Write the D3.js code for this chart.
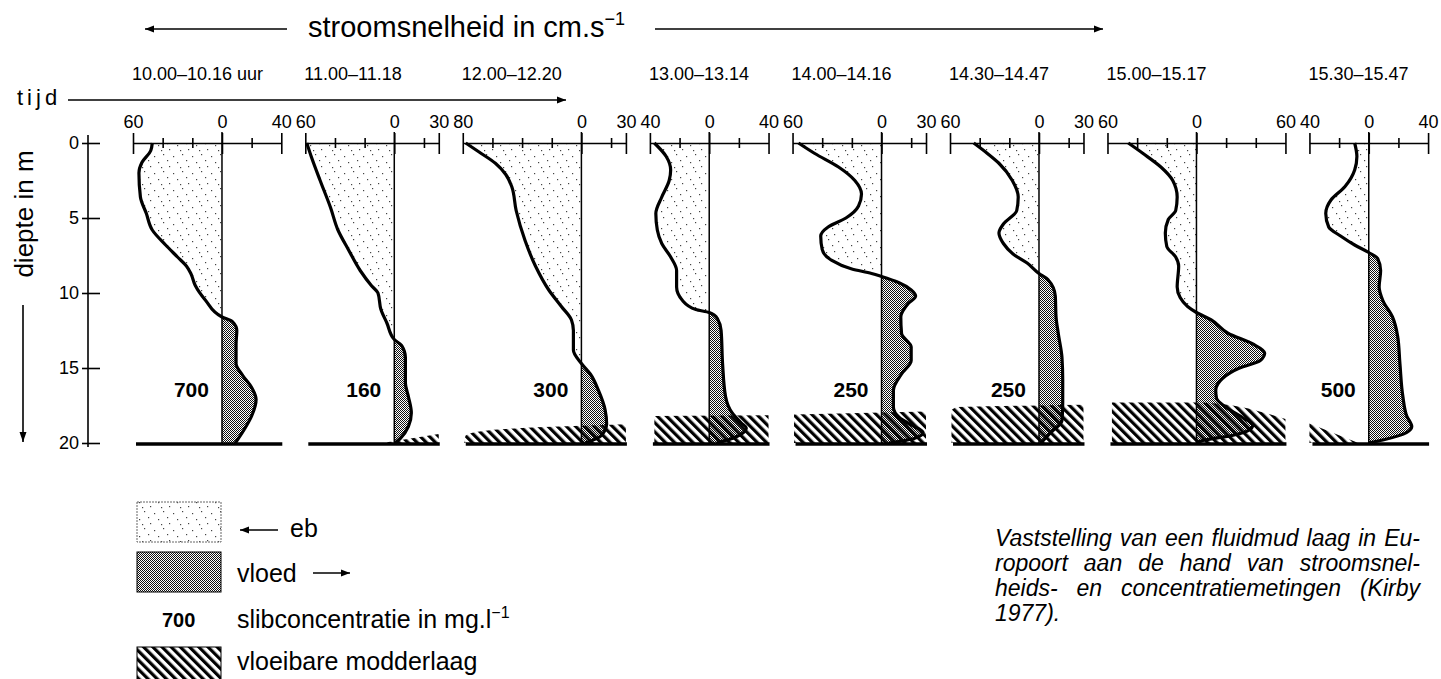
<!DOCTYPE html>
<html>
<head>
<meta charset="utf-8">
<script src="https://cdn.jsdelivr.net/npm/d3@7"></script>
<style>
  body { margin: 0; background: #fff; }
  svg { display: block; font-family: "Liberation Sans", Arial, Helvetica, sans-serif; }
</style>
</head>
<body>
<svg id="chart" width="1441" height="679"></svg>
<script>
// meetperiodes
const periods = ['10.00–10.16 uur', '11.00–11.18', '12.00–12.20', '13.00–13.14',
                 '14.00–14.16', '14.30–14.47', '15.00–15.17', '15.30–15.47'];
// schaal per profiel (cm/s): links eb, rechts vloed
const ebMax = [60, 60, 80, 40, 60, 60, 60, 40];
const vloedMax = [40, 30, 30, 40, 30, 30, 60, 40];
// slibconcentratie (mg/l)
const concentrations = ['700', '160', '300', null, '250', '250', null, '500'];
const depthTicks = [0, 5, 10, 15, 20];

// snelheidsprofielen: [diepte m, snelheid cm/s], negatief = eb
const profile1 = [[0,-47],[0.5,-48],[1.3,-54],[2,-56],[3.6,-55],[4.7,-51],[5.8,-47],[6.8,-38],[7.6,-30],[8.2,-24],[8.7,-21],[9.5,-18],[10.5,-11],[11.6,0],[11.9,7],[12.5,10],[13.4,9.5],[14.7,9.5],[15.5,14],[16.3,20],[17.1,23],[18.2,20],[19.1,15],[20,9]];
const profile2 = [[0,-59],[0.9,-56],[2.5,-50],[4.3,-43],[5.8,-38],[7.1,-31],[8.5,-23],[9.5,-15.5],[10,-11],[11.1,-9],[12,-5],[13.1,0],[13.5,5],[14.3,7.5],[16,7.5],[16.9,9.5],[18,11.5],[18.9,9.5],[19.7,4],[20,0.5]];
const profile3 = [[0,-78],[0.6,-69],[1.35,-58],[2.1,-51],[2.9,-47],[4.5,-44],[6.5,-38],[8.2,-31],[9.8,-22],[10.9,-13.5],[11.8,-6.7],[12.5,-5.4],[13.8,-5.4],[14.7,0],[15.4,6],[16.5,11.5],[17.8,16],[18.7,17],[19.5,13.5],[20,2.7]];
const profile4 = [[0,-37],[0.9,-29],[1.8,-26],[2.5,-27],[3.6,-32],[4.7,-36],[5.8,-35],[6.7,-32],[7.6,-26],[8.5,-22],[9.6,-22],[10.5,-18],[11.1,-9],[11.3,0],[11.7,5.5],[12.5,8],[14.7,9],[16.9,11],[18,15.5],[18.7,22],[19,25],[19.6,18],[20,5]];
const profile5 = [[0,-56],[0.7,-45],[1.6,-29],[2.5,-18],[3.4,-13.5],[4.2,-15.5],[5,-24],[5.6,-36],[6.2,-41],[7.1,-40],[7.8,-34],[8.4,-20],[8.7,-6.7],[8.9,0],[9.3,11.5],[9.8,20],[10.2,23],[10.7,18],[11.6,13],[12.7,13.5],[13.6,20],[14.5,20],[15.4,13.5],[16.5,8],[17.6,8],[18.3,12],[18.8,20],[19.3,28],[19.7,22],[20,5]];
const profile6 = [[0,-44],[0.6,-36],[1.35,-27],[2.5,-18],[3.6,-14],[4.5,-15],[5.4,-24],[6,-27],[6.7,-24],[7.4,-17.5],[8,-8],[8.7,0],[9.1,6],[10.2,11],[11.6,11.5],[12.7,13],[14.3,15.5],[15.8,16],[17.3,16],[18.5,15.5],[19.3,8],[20,1.3]];
const profile7 = [[0,-46],[0.7,-36],[1.6,-24],[2.5,-16],[3.6,-13],[4.5,-14],[5.1,-19],[6,-21],[6.9,-20],[7.6,-14],[8.2,-12],[9.6,-13],[10.3,-11],[10.9,-6],[11.3,0],[11.8,10],[12.7,21.5],[13.4,38],[14,46],[14.5,43],[15,29],[15.7,17.5],[16.5,13],[17,13.5],[17.6,19.5],[18.3,31],[18.8,38],[19.1,36],[19.5,24],[19.8,5.5],[20,0]];
const profile8 = [[0,-9.5],[0.9,-8],[1.8,-9.5],[2.9,-16],[3.8,-25.5],[4.7,-29],[5.6,-27],[6.2,-19],[6.8,-9.5],[7.3,0],[7.7,6],[8.5,8],[9.6,7],[10.5,9.5],[11.6,16],[12.9,19.5],[14.7,21],[16.9,23],[18.2,25.6],[18.9,29],[19.3,25.6],[19.8,9.5],[20,0]];
const profiles = [profile1, profile2, profile3, profile4, profile5, profile6, profile7, profile8];

// vloeibare modderlaag: bovenrand als [snelheid, diepte]
const mud2 = [[-8,20],[30,19.4]];
const mud3 = [[-79,20],[-78,19.5],[-70,19.25],[-40,19.0],[0,18.85],[30,18.75]];
const mud4 = [[-37,18.2],[40,18.15]];
const mud5 = [[-59,18.1],[30,17.9]];
const mud6 = [[-59,17.8],[-55,17.6],[0,17.5],[30,17.45]];
const mud7 = [[-57,17.3],[0,17.3],[30,17.6],[50,18.1],[60,18.4]];
const mud8 = [[-40,18.7],[-7,20]];
const mudLayers = [null, mud2, mud3, mud4, mud5, mud6, mud7, mud8];

const svg = d3.select('#chart');
svg.append('rect').attr('width', 1441).attr('height', 679).attr('fill', '#fff');
const defs = svg.append('defs');

// patronen
const ebPat = defs.append('pattern').attr('id', 'eb')
  .attr('patternUnits', 'userSpaceOnUse').attr('width', 19).attr('height', 17);
[[2,3],[11,1],[6,9],[15,7],[9,14],[17,13]].forEach(([px, py]) => {
  ebPat.append('rect').attr('x', px).attr('y', py).attr('width', 1.2).attr('height', 1.2).attr('fill', '#444');
});

const vloedPat = defs.append('pattern').attr('id', 'vloed')
  .attr('patternUnits', 'userSpaceOnUse').attr('width', 2).attr('height', 2);
vloedPat.append('rect').attr('width', 1).attr('height', 1).attr('fill', '#111');
vloedPat.append('rect').attr('x', 1).attr('y', 1).attr('width', 1).attr('height', 1).attr('fill', '#111');

const mudPat = defs.append('pattern').attr('id', 'mud')
  .attr('patternUnits', 'userSpaceOnUse').attr('width', 6.5).attr('height', 10)
  .attr('patternTransform', 'rotate(-45)');
mudPat.append('rect').attr('width', 3.2).attr('height', 10).attr('fill', '#000');

function arrow(x1, y1, x2, y2, head = 9, w = 3.5) {
  svg.append('line').attr('x1', x1).attr('y1', y1).attr('x2', x2).attr('y2', y2)
    .attr('stroke', '#000').attr('stroke-width', 1.6);
  const a = Math.atan2(y2 - y1, x2 - x1);
  const bx = x2 - head * Math.cos(a), by = y2 - head * Math.sin(a);
  const px = -Math.sin(a) * w, py = Math.cos(a) * w;
  svg.append('path')
    .attr('d', `M${x2},${y2}L${bx + px},${by + py}L${bx - px},${by - py}Z`)
    .attr('fill', '#000');
}

// titel
const title = svg.append('text').attr('x', 308).attr('y', 37).attr('font-size', 29);
title.append('tspan').text('stroomsnelheid in cm.s');
title.append('tspan').attr('dy', -12).attr('font-size', 18).text('−1');
arrow(287, 29, 145, 29);
arrow(655, 29, 1103, 29);

// tijd
svg.append('text').attr('x', 17).attr('y', 105).attr('font-size', 22)
  .attr('letter-spacing', 4).text('tijd');
arrow(68, 100, 566, 100);

// diepte-as
const y = d3.scaleLinear().domain([0, 20]).range([143, 443]);
const yAxis = svg.append('g').attr('transform', 'translate(88,0)')
  .call(d3.axisLeft(y).tickValues(depthTicks).tickSizeOuter(0));
yAxis.select('.domain').attr('d', `M0,${y(0) - 8}V${y(20) + 4}`).attr('stroke-width', 1.6);
yAxis.selectAll('.tick line').attr('x1', -6).attr('x2', 12).attr('stroke-width', 1.6);
yAxis.selectAll('.tick text').attr('x', -9).attr('font-size', 18)
  .attr('font-family', '"Liberation Sans", Arial, sans-serif').attr('fill', '#000');

svg.append('text').attr('transform', 'translate(33,214) rotate(-90)')
  .attr('text-anchor', 'middle').attr('font-size', 26).text('diepte in m');
arrow(23, 305, 23, 442, 10, 3.5);

// profielen
const k = 1.483, gap = 24;
let cursor = 133;

periods.forEach((label, i) => {
  const L = cursor, R = L + (ebMax[i] + vloedMax[i]) * k;
  cursor = R + gap;
  const x = d3.scaleLinear().domain([-ebMax[i], vloedMax[i]]).range([L, R]);
  const g = svg.append('g');
  const data = profiles[i];

  g.append('text').attr('x', L - 1).attr('y', 80).attr('font-size', 18).text(label);

  // modderlaag
  if (mudLayers[i]) {
    const mudArea = d3.area().curve(d3.curveMonotoneX)
      .x(d => x(d[0])).y0(y(20)).y1(d => y(d[1]));
    g.append('path').datum(mudLayers[i]).attr('d', mudArea).attr('fill', 'url(#mud)');
  }

  // eb / vloed vlakken
  const area = d3.area().curve(d3.curveMonotoneY)
    .y(d => y(d[0])).x0(x(0)).x1(d => x(d[1]));
  const ebClip = 'clipEb' + i, vlClip = 'clipVl' + i;
  defs.append('clipPath').attr('id', ebClip).append('rect')
    .attr('x', L - 20).attr('y', y(0) - 5).attr('width', x(0) - L + 20).attr('height', 320);
  defs.append('clipPath').attr('id', vlClip).append('rect')
    .attr('x', x(0)).attr('y', y(0) - 5).attr('width', R - x(0) + 40).attr('height', 320);
  g.append('path').datum(data).attr('d', area).attr('fill', 'url(#eb)')
    .attr('clip-path', `url(#${ebClip})`);
  g.append('path').datum(data).attr('d', area).attr('fill', 'url(#vloed)')
    .attr('clip-path', `url(#${vlClip})`);

  // bovenas
  const tickVals = Array.from(new Set([-ebMax[i],
    ...d3.range(-Math.floor(ebMax[i] / 20) * 20, vloedMax[i] + 0.1, 20), vloedMax[i]]));
  const isMajor = v => v === 0 || v === -ebMax[i] || v === vloedMax[i];
  const ax = g.append('g').attr('transform', `translate(0,${y(0)})`)
    .call(d3.axisTop(x).tickValues(tickVals).tickSizeOuter(0)
      .tickFormat(v => isMajor(v) ? Math.abs(v) : ''));
  ax.select('.domain').attr('stroke-width', 1.6);
  ax.selectAll('.tick line').attr('y1', d => isMajor(d) ? -10 : -5)
    .attr('y2', d => isMajor(d) ? 11 : 5).attr('stroke-width', 1.6);
  ax.selectAll('.tick text').attr('y', -15).attr('dy', 0).attr('font-size', 18)
    .attr('font-family', '"Liberation Sans", Arial, sans-serif').attr('fill', '#000');

  // nullijn
  g.append('line').attr('x1', x(0)).attr('x2', x(0)).attr('y1', y(0) - 11).attr('y2', y(20))
    .attr('stroke', '#000').attr('stroke-width', 1.5);

  // profiellijn
  const line = d3.line().curve(d3.curveMonotoneY).y(d => y(d[0])).x(d => x(d[1]));
  g.append('path').datum(data).attr('d', line).attr('fill', 'none')
    .attr('stroke', '#000').attr('stroke-width', 3.2).attr('stroke-linejoin', 'round');

  // bodem
  g.append('line').attr('x1', L + 3).attr('x2', R + 1).attr('y1', y(20) + 1).attr('y2', y(20) + 1)
    .attr('stroke', '#000').attr('stroke-width', 3.5);

  if (concentrations[i]) {
    g.append('text').attr('x', x(0) - 13).attr('y', 397).attr('text-anchor', 'end')
      .attr('font-size', 21).attr('font-weight', 'bold').text(concentrations[i]);
  }
});

// legenda
svg.append('rect').attr('x', 137).attr('y', 502).attr('width', 84).attr('height', 40)
  .attr('fill', 'url(#eb)').attr('stroke', '#666').attr('stroke-dasharray', '2,1');
arrow(278, 530, 240, 530, 9, 3.5);
svg.append('text').attr('x', 290).attr('y', 537).attr('font-size', 25).text('eb');

svg.append('rect').attr('x', 137).attr('y', 552).attr('width', 84).attr('height', 40)
  .attr('fill', 'url(#vloed)').attr('stroke', '#000');
svg.append('text').attr('x', 237).attr('y', 582).attr('font-size', 25).text('vloed');
arrow(313, 573, 350, 573, 9, 3.5);

svg.append('text').attr('x', 162).attr('y', 627).attr('font-size', 20)
  .attr('font-weight', 'bold').text('700');
const slib = svg.append('text').attr('x', 237).attr('y', 628).attr('font-size', 25);
slib.append('tspan').text('slibconcentratie in mg.l');
slib.append('tspan').attr('dy', -10).attr('font-size', 16).text('−1');

svg.append('rect').attr('x', 137).attr('y', 647).attr('width', 84).attr('height', 40)
  .attr('fill', 'url(#mud)').attr('stroke', '#000');
svg.append('text').attr('x', 237).attr('y', 670).attr('font-size', 25).text('vloeibare modderlaag');

// bijschrift, uitgevuld via woordafstand
const caption = [
  'Vaststelling van een fluidmud laag in Eu-',
  'ropoort aan de hand van stroomsnel-',
  'heids- en concentratiemetingen (Kirby',
  '1977).'
];
const captionWidth = 425;
caption.forEach((t, i) => {
  const txt = svg.append('text').attr('x', 995).attr('y', 546 + i * 25)
    .attr('font-size', 23).attr('font-style', 'italic').text(t);
  if (i < caption.length - 1) {
    const spaces = t.split(' ').length - 1;
    const extra = captionWidth - txt.node().getComputedTextLength();
    if (spaces > 0 && extra > 0) txt.attr('word-spacing', extra / spaces);
  }
});
</script>
</body>
</html>
